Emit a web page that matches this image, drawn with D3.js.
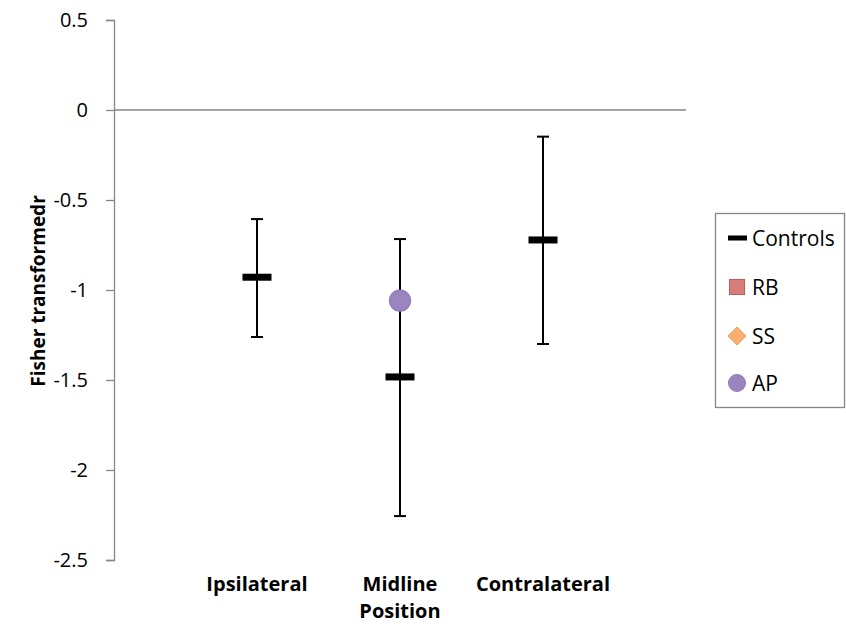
<!DOCTYPE html>
<html><head><meta charset="utf-8">
<script src="https://cdn.jsdelivr.net/npm/d3@7"></script>
<style>body{margin:0;background:#fff}svg{display:block}text{font-family:"Open Sans",sans-serif}</style>
</head><body>
<svg id="c" width="846" height="628"></svg>
<script>
const categories = ["Ipsilateral", "Midline Position", "Contralateral"];
const controlMean = [-0.929, -1.483, -0.722];
const controlHigh = [-0.606, -0.717, -0.148];
const controlLow = [-1.261, -2.256, -1.300];
const apValues = [null, -1.059, null];
const yTicks = [0.5, 0, -0.5, -1, -1.5, -2, -2.5];
const legendItems = ["Controls", "RB", "SS", "AP"];

const svg = d3.select("#c");
const pLeft = 114, pRight = 686, pTop = 20, pBottom = 560;
const x = d3.scalePoint().domain(categories).range([pLeft, pRight]).padding(1);
const y = d3.scaleLinear().domain([-2.5, 0.5]).range([pBottom, pTop]);
const axisColor = "#868686";

// y axis
const yAxis = svg.append("g").attr("transform", `translate(${pLeft},0)`)
  .call(d3.axisLeft(y).tickValues(yTicks).tickSize(8).tickPadding(18).tickFormat(d => d));
yAxis.select(".domain").attr("stroke", axisColor).attr("stroke-width", 1.3);
yAxis.selectAll(".tick line").attr("stroke", axisColor).attr("stroke-width", 1.3);
yAxis.selectAll(".tick text").attr("font-size", 20).attr("fill", "#000").attr("font-family", "Open Sans");

// zero line (category axis)
svg.append("line").attr("x1", pLeft).attr("x2", pRight).attr("y1", y(0)).attr("y2", y(0))
  .attr("stroke", axisColor).attr("stroke-width", 1.3);

// axis title
svg.append("text").attr("transform", `translate(45,291) rotate(-90)`)
  .attr("text-anchor", "middle").attr("font-weight", "bold").attr("font-size", 19)
  .text("Fisher transformedr");

// category labels
categories.forEach(c => {
  const words = c === "Midline Position" ? ["Midline", "Position"] : [c];
  const t = svg.append("text").attr("text-anchor", "middle").attr("font-weight", "bold").attr("font-size", 20);
  words.forEach((w, i) => t.append("tspan").attr("x", x(c)).attr("y", 591 + i * 27).text(w));
});

// error bars
const g = svg.append("g");
categories.forEach((c, i) => {
  const cx = x(c);
  g.append("line").attr("x1", cx).attr("x2", cx).attr("y1", y(controlHigh[i])).attr("y2", y(controlLow[i]))
    .attr("stroke", "#000").attr("stroke-width", 2);
  [controlHigh[i], controlLow[i]].forEach(v => g.append("line").attr("x1", cx - 6).attr("x2", cx + 6)
    .attr("y1", y(v)).attr("y2", y(v)).attr("stroke", "#000").attr("stroke-width", 2));
});
// AP points
categories.forEach((c, i) => {
  if (apValues[i] == null) return;
  g.append("circle").attr("cx", x(c)).attr("cy", y(apValues[i])).attr("r", 10.5)
    .attr("fill", "#9b85c1").attr("stroke", "#8e78b8").attr("stroke-width", 1.2);
});
// control means
categories.forEach((c, i) => {
  g.append("rect").attr("x", x(c) - 14.5).attr("y", y(controlMean[i]) - 3.5).attr("width", 29).attr("height", 7)
    .attr("fill", "#000");
});

// legend
const lg = svg.append("g");
lg.append("rect").attr("x", 715.5).attr("y", 213.5).attr("width", 129).attr("height", 194)
  .attr("fill", "#fff").attr("stroke", axisColor).attr("stroke-width", 1.3);
const ly = [238, 287, 336, 383];
legendItems.forEach((name, i) => {
  const yy = ly[i];
  if (name === "Controls") lg.append("rect").attr("x", 728).attr("y", yy - 2.5).attr("width", 19).attr("height", 5).attr("fill", "#000");
  if (name === "RB") lg.append("rect").attr("x", 729.5).attr("y", yy - 7.5).attr("width", 15).attr("height", 15)
    .attr("fill", "#d77e7c").attr("stroke", "#c45a58").attr("stroke-width", 1);
  if (name === "SS") lg.append("path").attr("d", `M${737},${yy-9} L${746},${yy} L${737},${yy+9} L${728},${yy} Z`)
    .attr("fill", "#f8ae6e").attr("stroke", "#f49c55").attr("stroke-width", 1);
  if (name === "AP") lg.append("circle").attr("cx", 737).attr("cy", yy).attr("r", 8.5)
    .attr("fill", "#9b85c1").attr("stroke", "#8e78b8").attr("stroke-width", 1);
  lg.append("text").attr("x", 752).attr("y", yy + 8).attr("font-size", 21).text(name);
});
</script>
</body></html>
